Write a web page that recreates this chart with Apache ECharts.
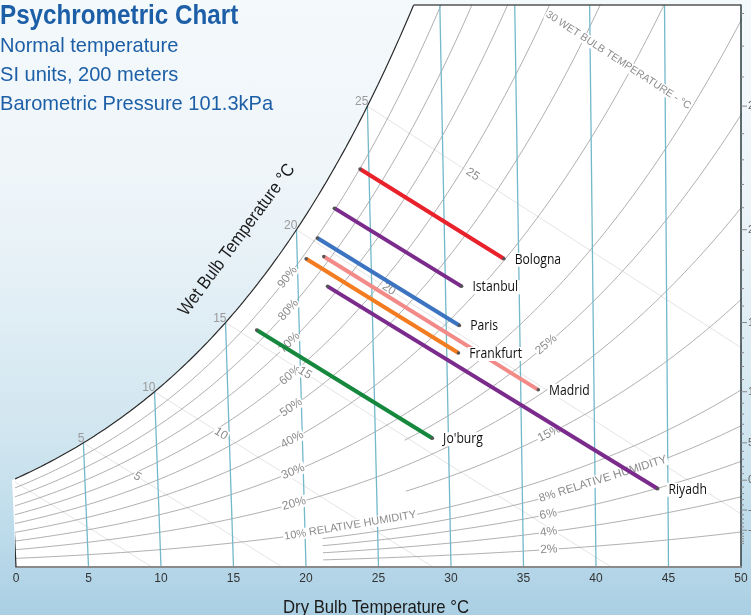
<!DOCTYPE html>
<html><head><meta charset="utf-8">
<script src="https://cdn.jsdelivr.net/npm/echarts@6/dist/echarts.min.js"></script>
<style>
html,body{margin:0;padding:0;width:751px;height:615px;overflow:hidden;}
body{background:linear-gradient(to bottom,#f4f9fb 0%,#eef5f9 30%,#e1eef5 50%,#cfe5ef 72%,#bbdaea 88%,#aacfe3 100%);}
#c{width:751px;height:615px;}
</style></head><body><div id="c"></div>
<script>
// ---------- data ----------
const dryBulbTicks = [0,5,10,15,20,25,30,35,40,45,50];
const dryBulbLines = [5,10,15,20,25,30,35,40,45];
const rhCurves = [10,20,30,40,50,60,70,80,90];
const rhLowCurves = [2,4,6,8];
const rhMidCurves = [15,25];
const wetBulbLines = [0,5,10,15,20,25,30];
const wetBulbLabels = [5,10,15,20,25];
const dewPointTicks = [-15,-14,-13,-12,-11,-10,-9,-8,-7,-6,-5,-4,-3,-2,-1,0,1,2,3,4,5,6,7,8,9,10,11,12,13,14,15,16,17,18,19,20,21,22,23,24,25,26,27,28];
const dewPointLabels = [-10,-5,0,5,10,15,20,25];
const W_MAX = 24.43; // humidity ratio at top of chart, g/kg

const cities = ['Bologna','Istanbul','Paris','Frankfurt','Madrid','Riyadh',"Jo'burg"];
const cityDryBulbStart = [24.4,22.6,21.4,20.6,21.8,22.0,17.1];
const cityHumStart     = [17.3,15.6,14.3,13.4,13.5,12.2,10.3];
const cityDryBulbEnd   = [34.0,31.1,30.9,30.8,36.2,44.3,28.9];
const cityHumEnd       = [13.4,12.2,10.5, 9.3, 7.7, 3.4, 5.6];
const cityColors = ['#e8212b','#7a2b8b','#3d74c1','#f47c20','#f28a88','#7a2b8b','#15883d'];

// ---------- psychrometrics ----------
const P = 101.325;
function psat(T){ return T>=0 ? 0.61094*Math.exp(17.625*T/(T+243.04)) : 0.61115*Math.exp(22.452*T/(272.55+T)); }
function wFromPv(pv){ return 622*pv/(P-pv); }
function wSat(T){ return wFromPv(psat(T)); }
function wRH(T,rh){ return wFromPv(rh/100*psat(T)); }
function wWB(T,Twb){ const ws=wSat(Twb)/1000; return 1000*((2501-2.326*Twb)*ws-1.006*(T-Twb))/(2501+1.86*T-4.186*Twb); }
// chart abscissa: dry-bulb lines lean slightly
function cx(T,W){ return T-(0.072-0.00135*T)*W; }
function bisect(g,a,b){ for(let i=0;i<60;i++){ const m=(a+b)/2; if(g(a)*g(m)<=0) b=m; else a=m; } return (a+b)/2; }

const tTop = bisect(T=>wSat(T)-W_MAX,20,35);

function curve(f,t0,t1,step){
  const pts=[];
  for(let T=t0;T<=t1+1e-9;T+=step){
    const w=f(T); pts.push([cx(T,w),w]);
    if(w>W_MAX||w<0) break;
  }
  return pts;
}

const series=[];
const baseLine = {type:'line',symbol:'none',showSymbol:false,silent:true,animation:false,clip:true};

// white chart face
const fillPts=[];
for(let T=0;T<tTop;T+=0.25){ const w=wSat(T); fillPts.push([cx(T,w),w]); }
fillPts.push([cx(tTop,W_MAX),W_MAX],[50,W_MAX],[50,0],[0,0]);
series.push({type:'custom',z:1,silent:true,data:[[25,10]],renderItem:(p,api)=>({type:'polygon',shape:{points:fillPts.map(q=>api.coord(q))},style:{fill:'#ffffff'}})});

// wet bulb lines
wetBulbLines.forEach(wb=>{
  series.push(Object.assign({},baseLine,{z:2,lineStyle:{color:'#dddddd',width:0.8},
    data:curve(T=>wWB(T,wb),wb,60,0.5)}));
});
// RH curves
rhCurves.forEach(rh=>{
  series.push(Object.assign({},baseLine,{z:3,lineStyle:{color:'#9a9a9a',width:0.8},data:curve(T=>wRH(T,rh),0,51,0.25)}));
});
rhLowCurves.forEach(rh=>{
  series.push(Object.assign({},baseLine,{z:3,lineStyle:{color:'#9a9a9a',width:0.8},data:curve(T=>wRH(T,rh),21.2,51,0.25)}));
});
rhMidCurves.forEach(rh=>{
  series.push(Object.assign({},baseLine,{z:3,lineStyle:{color:'#9a9a9a',width:0.8},data:curve(T=>wRH(T,rh),27,51,0.25)}));
});
// dry bulb lines
dryBulbLines.forEach(T=>{
  const wt=Math.min(wSat(T),W_MAX);
  series.push(Object.assign({},baseLine,{z:4,lineStyle:{color:'#74b9ca',width:1.3},data:[[cx(T,0),0],[cx(T,wt),wt]]}));
});
// saturation curve, 0 degC line, top border
series.push(Object.assign({},baseLine,{z:6,lineStyle:{color:'#2b2b2b',width:1.2},data:fillPts.slice(0,fillPts.length-3)}));
series.push(Object.assign({},baseLine,{z:6,clip:false,lineStyle:{color:'#2b2b2b',width:1.2},data:[[0,0],[cx(0,wSat(0)),wSat(0)]]}));
series.push(Object.assign({},baseLine,{z:6,clip:false,lineStyle:{color:'#555',width:1.6},data:[[cx(tTop,W_MAX),W_MAX],[50,W_MAX]]}));

// ---------- text labels ----------
const FONT = '"Liberation Sans", Arial, sans-serif';
const textItems=[];
const GRAY='#8c8c8c';
const RH_LABEL_T=19.3, RH_RIGHT_T=36.1;
rhCurves.forEach(rh=>{
  if(rh===10){
    textItems.push({f:T=>wRH(T,10),T:18.5,span:9,align:'left',size:11,text:'10% RELATIVE HUMIDITY'});
  } else {
    textItems.push({f:T=>wRH(T,rh),T:RH_LABEL_T,span:1,align:'center',size:12,text:rh+'%'});
  }
});
rhLowCurves.forEach(rh=>{
  textItems.push({f:T=>wRH(T,rh),T:RH_RIGHT_T,span:rh===8?8:1.5,align:'left',size:rh===8?11.5:12,text:rh===8?'8% RELATIVE HUMIDITY':rh+'%'});
});
rhMidCurves.forEach(rh=>{
  textItems.push({f:T=>wRH(T,rh),T:RH_RIGHT_T,span:1.5,align:'left',size:12,text:rh+'%'});
});
wetBulbLabels.forEach(wb=>{
  const T=bisect(t=>wWB(t,wb)-wRH(t,57),wb,wb+20);
  textItems.push({f:t=>wWB(t,wb),T:T,span:1,align:'center',size:12,text:String(wb)});
});
{
  const T=bisect(t=>wWB(t,30)-(W_MAX-0.35),30,50);
  textItems.push({f:t=>wWB(t,30),T:T,span:10,align:'left',size:10.5,text:'30 WET BULB TEMPERATURE - °C'});
}
series.push({type:'custom',z:8,silent:true,data:textItems.map(()=>[25,10]),renderItem:(params,api)=>{
  const d=textItems[params.dataIndex];
  const pt=T=>{const w=d.f(T);return api.coord([cx(T,w),w]);};
  const p=pt(d.T);
  const a=d.align==='left'?pt(d.T):pt(d.T-d.span/2), b=d.align==='left'?pt(d.T+d.span):pt(d.T+d.span/2);
  const ang=Math.atan2(-(b[1]-a[1]),b[0]-a[0]);
  return {type:'text',x:p[0],y:p[1],rotation:ang,style:{text:d.text,fill:GRAY,font:d.size+'px '+FONT,align:d.align,verticalAlign:'middle',backgroundColor:'#ffffff',padding:[0,1]}};
}});
// wet bulb numbers on saturation line
series.push({type:'custom',z:8,silent:true,data:wetBulbLabels.map(()=>[25,10]),renderItem:(params,api)=>{
  const t=wetBulbLabels[params.dataIndex], w=wSat(t);
  const p=api.coord([cx(t,w),w]);
  return {type:'text',x:p[0]+1,y:p[1]+2,style:{text:String(t),fill:'#9a9a9a',font:'12px '+FONT,align:'right',verticalAlign:'bottom'}};
}});
// dew point ticks on the right edge
series.push({type:'custom',z:8,silent:true,clip:false,data:dewPointTicks.map(()=>[50,1]),renderItem:(params,api)=>{
  const t=dewPointTicks[params.dataIndex], w=wSat(t);
  const p=api.coord([50,w]);
  const major=dewPointLabels.indexOf(t)>=0;
  const ch=[{type:'line',shape:{x1:p[0],y1:p[1],x2:p[0]+(major?6:3),y2:p[1]},style:{stroke:'#888',lineWidth:1}}];
  if(major) ch.push({type:'text',x:p[0]+7,y:p[1],style:{text:String(t),fill:'#666',font:'11px '+FONT,verticalAlign:'middle'}});
  return {type:'group',children:ch};
}});

// cities
cities.forEach((name,i)=>{
  const a=[cx(cityDryBulbStart[i],cityHumStart[i]),cityHumStart[i]];
  const b=[cx(cityDryBulbEnd[i],cityHumEnd[i]),cityHumEnd[i]];
  series.push({type:'line',z:10,silent:true,animation:false,symbol:'circle',symbolSize:3.5,showSymbol:true,
    lineStyle:{color:cityColors[i],width:4,cap:'butt'},itemStyle:{color:'#555'},data:[a,b]});
});
series.push({type:'custom',z:11,silent:true,data:cities.map(()=>[25,10]),renderItem:(params,api)=>{
  const i=params.dataIndex;
  const p=api.coord([cx(cityDryBulbEnd[i],cityHumEnd[i]),cityHumEnd[i]]);
  return {type:'text',x:p[0]+9,y:p[1]+1,scaleX:0.87,style:{text:cities[i],fill:'#111',font:'14px "Open Sans", sans-serif',align:'left',verticalAlign:'middle',backgroundColor:'#ffffff',padding:[0,2]}};
}});

const chart=echarts.init(document.getElementById('c'),null,{renderer:'canvas'});
chart.setOption({
  animation:false,
  grid:{left:16,right:10,top:5,bottom:48},
  xAxis:{type:'value',min:0,max:50,interval:5,z:5,
    axisLine:{lineStyle:{color:'#8a8a8a',width:2}},axisTick:{show:false},splitLine:{show:false},
    axisLabel:{color:'#333',fontSize:12,fontFamily:FONT,margin:6,formatter:v=>dryBulbTicks.indexOf(v)>=0?String(v):''}},
  yAxis:{type:'value',min:0,max:W_MAX,position:'right',z:5,
    axisLine:{show:true,onZero:false,lineStyle:{color:'#2d3b42',width:1.5}},axisTick:{show:false},axisLabel:{show:false},splitLine:{show:false}},
  graphic:[
    {type:'text',x:0,y:16,scaleX:0.865,style:{text:'Psychrometric Chart',font:'bold 28px '+FONT,fill:'#1d5fa7',verticalAlign:'middle'}},
    {type:'text',x:0,y:46,scaleX:0.955,style:{text:'Normal temperature',font:'21px '+FONT,fill:'#1d5fa7',verticalAlign:'middle'}},
    {type:'text',x:0,y:75,scaleX:0.955,style:{text:'SI units, 200 meters',font:'21px '+FONT,fill:'#1d5fa7',verticalAlign:'middle'}},
    {type:'text',x:0,y:104,scaleX:0.955,style:{text:'Barometric Pressure 101.3kPa',font:'21px '+FONT,fill:'#1d5fa7',verticalAlign:'middle'}},
    {type:'text',x:237,y:240,rotation:0.934,scaleX:0.9,style:{text:'Wet Bulb Temperature °C',font:'18px '+FONT,fill:'#1a1a1a',align:'center',verticalAlign:'middle'}},
    {type:'text',x:376,y:608,scaleX:0.88,style:{text:'Dry Bulb Temperature °C',font:'19px '+FONT,fill:'#1a1a1a',align:'center',verticalAlign:'middle'}}
  ],
  series:series
});
</script></body></html>
